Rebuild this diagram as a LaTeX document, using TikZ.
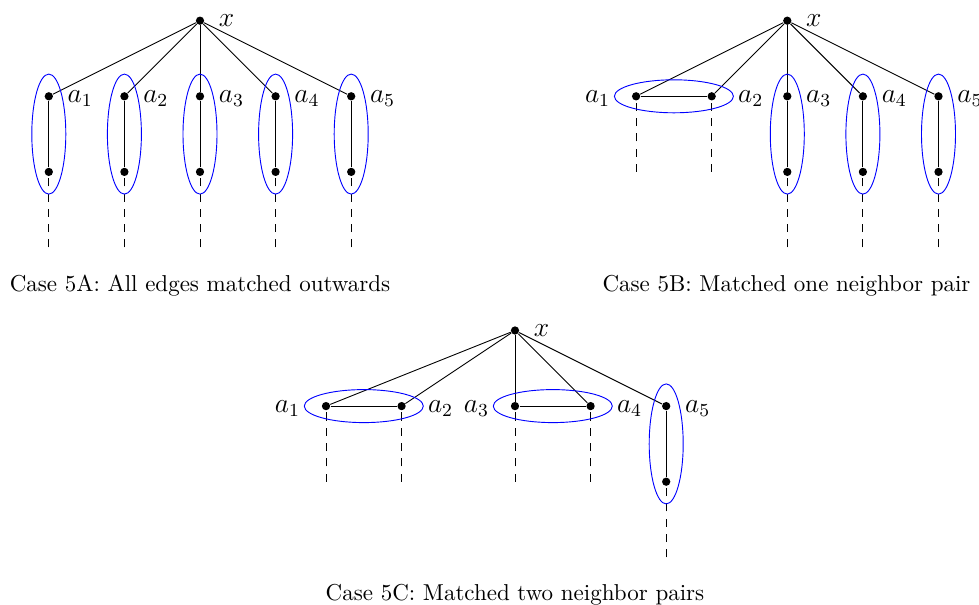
\documentclass[tikz,border=0pt]{standalone}
\begin{document}
\begin{tikzpicture}[x=0.4348pt,y=-0.4348pt,
  dot/.style={circle,fill,inner sep=0pt,minimum size=3.6pt},
  dsh/.style={dash pattern=on 3.5pt off 3.15pt},
  grp/.style={blue},
  xl/.style={label={[label distance=6.0pt,inner sep=0pt,font=\large]right:#1}},
  lr/.style={label={[label distance=6.0pt,inner sep=0pt,font=\large,yshift=-0.9pt]right:#1}},
  lrf/.style={label={[label distance=9.3pt,inner sep=0pt,font=\large,yshift=-0.9pt]right:#1}},
  llf/.style={label={[label distance=9.1pt,inner sep=0pt,font=\large,yshift=-0.9pt]left:#1}},
  captext/.style={anchor=base,inner sep=0pt}]
\useasboundingbox (0,0) rectangle (979,605);

% ---------- Case 5A ----------
\node[dot,xl=$x$] (Ax) at (200,20.7) {};
\foreach \i in {1,...,5} {
  \pgfmathsetmacro{\px}{200+75.6*(\i-3)}
  \node[dot,lr=$a_{\i}$] (Aa\i) at (\px,96.3) {};
  \node[dot] (Ab\i) at (\px,171.9) {};
  \coordinate (Ae\i) at (\px,247.5);
  \draw (Ax) -- (Aa\i);
  \draw (Aa\i) -- (Ab\i);
  \draw[dsh] (Ae\i) -- (Ab\i);
  \draw[grp] (\px,134.1) ellipse [x radius=17, y radius=60];
}
\node[captext] (capA) at (200,291.7) {Case 5A: All edges matched outwards};

% ---------- Case 5B ----------
\node[dot,xl=$x$] (Bx) at (787.3,20.7) {};
\node[dot,llf=$a_1$] (Ba1) at (636.1,96.3) {};
\node[dot,lrf=$a_2$] (Ba2) at (711.7,96.3) {};
\coordinate (Be1) at (636.1,171.9);
\coordinate (Be2) at (711.7,171.9);
\draw (Bx) -- (Ba1);
\draw (Bx) -- (Ba2);
\draw (Ba1) -- (Ba2);
\draw[dsh] (Be1) -- (Ba1);
\draw[dsh] (Be2) -- (Ba2);
\draw[grp] (673.9,96.3) ellipse [x radius=59.5, y radius=16.5];
\foreach \i in {3,4,5} {
  \pgfmathsetmacro{\px}{787.3+75.6*(\i-3)}
  \node[dot,lr=$a_{\i}$] (Ba\i) at (\px,96.3) {};
  \node[dot] (Bb\i) at (\px,171.9) {};
  \coordinate (Be\i) at (\px,247.5);
  \draw (Bx) -- (Ba\i);
  \draw (Ba\i) -- (Bb\i);
  \draw[dsh] (Be\i) -- (Bb\i);
  \draw[grp] (\px,134.1) ellipse [x radius=17, y radius=60];
}
\node[captext] (capB) at (786.5,291.7) {Case 5B: Matched one neighbor pair};

% ---------- Case 5C ----------
\node[dot,xl=$x$] (Cx) at (515,330.5) {};
\node[dot,llf=$a_1$] (Ca1) at (326,406.1) {};
\node[dot,lrf=$a_2$] (Ca2) at (401.6,406.1) {};
\node[dot,llf=$a_3$] (Ca3) at (515,406.1) {};
\node[dot,lrf=$a_4$] (Ca4) at (590.6,406.1) {};
\node[dot,lr=$a_5$] (Ca5) at (666.2,406.1) {};
\node[dot] (Cb5) at (666.2,481.7) {};
\coordinate (Ce1) at (326,481.7);
\coordinate (Ce2) at (401.6,481.7);
\coordinate (Ce3) at (515,481.7);
\coordinate (Ce4) at (590.6,481.7);
\coordinate (Ce5) at (666.2,557.3);
\foreach \i in {1,...,5} { \draw (Cx) -- (Ca\i); }
\draw (Ca1) -- (Ca2);
\draw (Ca3) -- (Ca4);
\draw (Ca5) -- (Cb5);
\foreach \i in {1,...,4} { \draw[dsh] (Ce\i) -- (Ca\i); }
\draw[dsh] (Ce5) -- (Cb5);
\draw[grp] (363.8,406.1) ellipse [x radius=59.5, y radius=16.5];
\draw[grp] (552.8,406.1) ellipse [x radius=59.5, y radius=16.5];
\draw[grp] (666.2,443.9) ellipse [x radius=17, y radius=60];
\node[captext] (capC) at (515,600) {Case 5C: Matched two neighbor pairs};
\end{tikzpicture}
\end{document}
